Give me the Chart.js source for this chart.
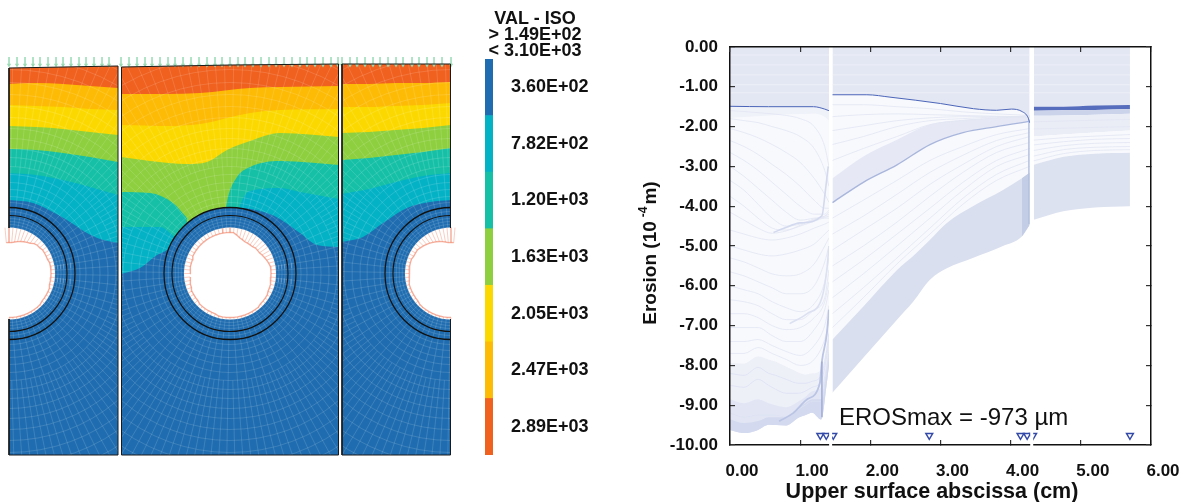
<!DOCTYPE html>
<html>
<head>
<meta charset="utf-8">
<title>Erosion</title>
<script src="https://cdn.jsdelivr.net/npm/chart.js@4"></script>
<style>
  body { margin: 0; background: #fff; font-family: "Liberation Sans", Arial, sans-serif; color: #111; }
  canvas { position: absolute; }
  .txt { position: absolute; white-space: nowrap; }
  #isoTitle { left: 475px; width: 120px; top: 10px; text-align: center; font: bold 18px/16px "Liberation Sans"; }
  #erosMax { left: 839px; top: 403px; font: 24px/27px "Liberation Sans"; }
  #xTitle { left: 732px; width: 400px; top: 479px; text-align: center; font: bold 21.5px/24px "Liberation Sans"; }
  #yTitle { left: 550px; width: 200px; top: 241px; text-align: center; font: bold 19px/24px "Liberation Sans"; transform: rotate(-90deg); }
  #yTitle sup { font-size: 12px; line-height: 0; vertical-align: 9px; margin: 0 2px 0 4px; }
</style>
</head>
<body>
<canvas id="fem" width="480" height="502" style="left:0;top:0"></canvas>
<canvas id="isoBar" width="110" height="502" style="left:485px;top:0"></canvas>
<canvas id="erosion" width="569" height="502" style="left:620px;top:0"></canvas>
<div class="txt" id="isoTitle">VAL - ISO<br>&gt; 1.49E+02<br>&lt; 3.10E+03</div>
<div class="txt" id="erosMax">EROSmax = -973 µm</div>
<div class="txt" id="xTitle">Upper surface abscissa (cm)</div>
<div class="txt" id="yTitle">Erosion (10<sup>-4</sup>m)</div>
<script>
// colour key
const isoLabels = ['3.60E+02', '7.82E+02', '1.20E+03', '1.63E+03', '2.05E+03', '2.47E+03', '2.89E+03'];
const isoColors = ['#1F6DB0', '#04B2C6', '#16C0A6', '#8DCF3F', '#FBD900', '#FDBB05', '#F0611F'];
const [BLUE, CYAN, TEAL, GREEN, YELLOW, AMBER, ORANGE] = isoColors;

// contour boundaries, left panel (mesh x, mesh y)
const p1X = [9, 36, 63, 90, 118];
const p1Top = [68, 67.5, 67, 66.5, 66];
const p1Amber = [84, 83, 84, 86, 88];
const p1Yellow = [105, 106, 107, 109, 110];
const p1Green = [126, 127, 129, 132, 135];
const p1Teal = [149, 150, 153, 157, 162];
const p1Cyan = [173, 175, 180, 187, 195];
const p1BlueX = [9, 33, 67, 87, 100, 118];
const p1Blue = [200, 203, 220, 233, 239, 243];

// middle panel
const p2TopX = [121, 230, 339];
const p2Top = [67, 65, 64];
const p2AmberX = [121, 167, 200, 250, 280, 339];
const p2Amber = [94, 94, 93, 88, 87, 86];
const p2YellowX = [121, 167, 200, 250, 280, 339];
const p2Yellow = [125, 126, 124, 113, 110, 109];
const p2GreenX = [121, 150, 187, 207, 227, 250, 280, 339];
const p2Green = [157, 161, 164, 162, 150, 141, 133, 137];
const p2TealLX = [121, 150, 173, 187];
const p2TealL = [192, 193, 203, 218];
const p2TealRX = [226, 228, 237, 250, 280, 339];
const p2TealR = [208, 197, 177, 167, 161, 165];
const p2CyanLX = [121, 160, 175, 180];
const p2CyanL = [227, 227, 237, 240];
const p2CyanRX = [240, 245, 250, 280, 300, 339];
const p2CyanR = [205, 195, 191, 188, 192, 199];
const p2BlueX = [121, 140, 157, 167, 172, 200, 240, 267, 280, 300, 317, 339];
const p2Blue = [274, 268, 255, 250, 245, 240, 208, 213, 219, 233, 245, 247];

// right panel
const p3X = [342, 369, 396, 423, 451];
const p3Top = [64, 64, 64, 64, 64];
const p3Amber = [84, 84, 83, 83, 82];
const p3Yellow = [107, 107, 106, 105, 103];
const p3Green = [133, 132, 130, 128, 125];
const p3Teal = [160, 158, 155, 152, 148];
const p3Cyan = [194, 189, 182, 176, 173];
const p3BlueX = [342, 363, 383, 407, 430, 451];
const p3Blue = [242, 237, 223, 208, 202, 200];

// tube centres and radii
const tubeX = [9, 230, 451];
const tubeY = 273.5;
const ringOuter = 66, ringMiddle = 58, holeRadius = 46;
const meshRadii = [46, 49, 52, 55, 58, 62, 66, 71, 77, 84, 91, 99, 107, 116, 125, 135, 145, 156, 167, 179, 191, 204, 217, 231, 245, 260];
const panelX = [[9, 118], [121.5, 339], [342, 451]];
const panelBottom = 455;

// pressure arrows on the hole, length by angle in degrees
const hole1Angles = [-95, -90, -85, -80, -75, -70, -65, -60, -55, -50, -45, -40, -35, -30, -25, -20, -15, -10, -5, 0, 5, 10, 15, 20, 25, 30, 35, 40, 45, 50, 55, 60, 65, 70, 75, 80, 85, 90];
const hole1Len = [15, 15, 15, 14, 13, 12, 11, 10, 9, 7, 6, 6, 5, 5, 5, 5, 4, 4, 4, 4, 4, 4, 4, 3, 3, 3, 3, 3, 2, 2, 2, 2, 2, 2, 2, 2, 2, 2];
const hole2Angles = [-180, -175, -170, -165, -160, -155, -150, -145, -140, -135, -130, -125, -120, -115, -110, -105, -100, -95, -90, -85, -80, -75, -70, -65, -60, -55, -50, -45, -40, -35, -30, -25, -20, -15, -10, -5, 0, 5, 10, 15, 20, 25, 30, 35, 40, 45, 50, 55, 60, 65, 70, 75, 80, 85, 90, 95, 100, 105, 110, 115, 120, 125, 130, 135, 140, 145, 150, 155, 160, 165, 170, 175];
const hole2Len = [6, 6, 6, 6, 6, 5, 5, 5, 5, 5, 5, 5, 5, 5, 5, 5, 5, 5, 5, 5, 7, 9, 10, 11, 11, 11, 11, 10, 10, 10, 9, 8, 7, 6, 5, 5, 5, 5, 5, 4, 4, 4, 3, 3, 3, 3, 2, 2, 2, 2, 2, 2, 2, 2, 2, 2, 2, 2, 3, 3, 3, 3, 3, 3, 4, 4, 4, 4, 5, 5, 6, 6];
const hole3Angles = [-85, -90, -95, -100, -105, -110, -115, -120, -125, -130, -135, -140, -145, -150, -155, -160, -165, -170, -175, -180, -185, -190, -195, -200, -205, -210, -215, -220, -225, -230, -235, -240, -245, -250, -255, -260, -265, -270];
const hole3Len = [15, 15, 15, 14, 13, 12, 11, 10, 9, 8, 7, 6, 5, 5, 5, 4, 4, 4, 4, 4, 4, 4, 3, 3, 3, 3, 3, 3, 2, 2, 2, 2, 2, 2, 2, 2, 2, 2];

// pressure load on the top edge
const loadX = [9, 17, 25, 33, 40, 48, 56, 63, 71, 79, 86, 94, 102, 109, 121, 129, 137, 145, 152, 160, 168, 175, 183, 191, 199, 207, 215, 222, 230, 238, 245, 253, 261, 269, 276, 284, 292, 300, 307, 315, 323, 331, 338, 342, 350, 357, 365, 373, 380, 388, 396, 403, 412, 419, 427, 434, 442, 451];
const loadTipY = 57, loadHeadY = 65;

// erosion chart
const xTickLabels = ['0.00', '1.00', '2.00', '3.00', '4.00', '5.00', '6.00'];
const yTickLabels = ['0.00', '-1.00', '-2.00', '-3.00', '-4.00', '-5.00', '-6.00', '-7.00', '-8.00', '-9.00', '-10.00'];
const markerX = [1.287, 1.372, 1.472, 2.84, 4.14, 4.235, 4.32, 5.70];
const markerY = [-9.76, -9.76, -9.76, -9.76, -9.76, -9.76, -9.76, -9.76];
const gapX = [1.434, 4.30];

// first blade stretch
const deepAX = [0, 0.55, 1.19, 1.35, 1.41];
const deepA = [-1.49, -1.5, -1.5, -1.56, -1.6];
const underDeepA = [-1.78, -1.72, -1.68, -1.75, -1.85];
const lineAX = [0, 0.2, 0.4, 0.6, 0.8, 1.0, 1.2, 1.35, 1.41];
const linesA = [
  [-1.6, -1.62, -1.65, -1.68, -1.72, -1.8, -2.0, -2.5, -3.0],
  [-1.8, -1.85, -1.9, -2.0, -2.1, -2.25, -2.55, -3.1, -3.5],
  [-2.05, -2.15, -2.28, -2.45, -2.65, -2.9, -3.3, -3.7, -3.9],
  [-2.35, -2.5, -2.7, -2.95, -3.2, -3.5, -3.85, -4.05, -4.05],
  [-2.65, -2.85, -3.1, -3.4, -3.7, -4.0, -4.2, -4.2, -4.1],
  [-3.0, -3.25, -3.55, -3.85, -4.15, -4.35, -4.3, -4.25, -4.15],
  [-3.35, -3.6, -3.95, -4.3, -4.5, -4.45, -4.32, -4.25, -4.2],
  [-3.75, -4.0, -4.3, -4.55, -4.6, -4.48, -4.34, -4.28, -4.25],
  [-4.15, -4.35, -4.55, -4.68, -4.62, -4.5, -4.38, -4.3, -4.3],
  [-4.6, -4.7, -4.8, -4.85, -4.8, -4.7, -4.55, -4.45, -4.4],
  [-5.0, -5.1, -5.2, -5.25, -5.2, -5.1, -4.95, -4.7, -4.6],
  [-5.3, -5.4, -5.55, -5.7, -5.75, -5.7, -5.45, -5.0, -4.8],
  [-5.65, -5.75, -5.9, -6.05, -6.2, -6.2, -6.0, -5.4, -5.0],
  [-6.0, -6.1, -6.2, -6.4, -6.55, -6.65, -6.45, -5.9, -5.3],
  [-6.35, -6.4, -6.5, -6.7, -6.85, -6.85, -6.6, -6.3, -5.6],
  [-6.7, -6.7, -6.8, -7.0, -7.1, -7.05, -6.8, -6.4, -5.9],
  [-7.05, -7.05, -7.05, -7.25, -7.4, -7.4, -7.1, -6.6, -6.1],
  [-7.4, -7.4, -7.35, -7.5, -7.65, -7.75, -7.5, -7.0, -6.5],
  [-7.7, -7.7, -7.55, -7.7, -7.85, -8.0, -7.85, -7.35, -6.9]
];
const lowAX = [0, 0.2, 0.4, 0.55, 0.65, 0.8, 0.98, 1.07, 1.17, 1.3, 1.38, 1.41];
const lowATop = [-7.94, -7.95, -7.77, -7.85, -7.9, -8.03, -8.18, -8.23, -8.2, -8.1, -7.43, -7.0];
const lowABottom = [-9.62, -9.7, -9.62, -9.49, -9.5, -9.51, -9.31, -9.25, -9.19, -9.36, -8.44, -8.0];
const lowAMid = [-8.85, -8.95, -8.85, -8.95, -9.0, -9.05, -8.9, -8.8, -8.65, -8.55, -7.9, -7.5];
const lowADeep = [-9.35, -9.45, -9.4, -9.3, -9.3, -9.3, -9.05, -8.95, -8.85, -8.85, -8.1, -7.7];
const lowALines = [
  [-8.2, -8.25, -8.05, -8.2, -8.25, -8.35, -8.45, -8.45, -8.4, -8.25, -7.6, -7.2],
  [-8.5, -8.55, -8.35, -8.5, -8.6, -8.7, -8.7, -8.65, -8.55, -8.4, -7.75, -7.35],
  [-9.2, -9.3, -9.25, -9.25, -9.25, -9.3, -9.1, -9.0, -8.9, -8.9, -8.15, -7.7]
];
const streakA1X = [0.62, 0.76, 1.0, 1.31, 1.36, 1.4];
const streakA1 = [-4.66, -4.56, -4.42, -4.24, -3.6, -3.0];
const streakA2X = [0.85, 1.1, 1.31, 1.38, 1.41];
const streakA2 = [-6.95, -6.7, -6.3, -5.6, -5.0];
const streakA3X = [0.7, 0.9, 1.1, 1.28, 1.31, 1.38, 1.41];
const streakA3 = [-9.4, -9.2, -8.85, -8.45, -7.9, -7.2, -6.6];
const edgeA3X = [1.31, 1.31];
const edgeA3 = [-9.3, -7.9];

// middle blade stretch
const deepBX = [1.46, 1.95, 2.28, 3.0, 3.47, 3.8, 4.01, 4.16, 4.25, 4.27];
const deepB = [-1.2, -1.2, -1.26, -1.42, -1.55, -1.59, -1.56, -1.62, -1.78, -1.9];
const wedgeX = [1.46, 1.9, 2.38, 2.85, 3.32, 3.8, 4.27];
const wedgeTop = [-3.3, -2.75, -2.33, -1.95, -1.83, -1.78, -1.7];
const streakB = [-3.91, -3.4, -2.96, -2.45, -2.15, -2.0, -1.87];
const linesB = [
  [-1.45, -1.45, -1.5, -1.55, -1.63, -1.68, -1.72],
  [-1.75, -1.7, -1.68, -1.7, -1.72, -1.74, -1.75],
  [-2.1, -1.98, -1.85, -1.78, -1.75, -1.75, -1.75],
  [-2.45, -2.25, -2.0, -1.85, -1.8, -1.76, -1.75],
  [-2.85, -2.55, -2.25, -1.95, -1.85, -1.78, -1.76],
  [-4.3, -3.85, -3.35, -2.85, -2.5, -2.2, -2.05],
  [-4.7, -4.25, -3.7, -3.15, -2.72, -2.35, -2.15],
  [-5.1, -4.6, -4.05, -3.45, -2.95, -2.5, -2.25],
  [-5.5, -5.0, -4.4, -3.75, -3.15, -2.65, -2.4],
  [-5.9, -5.35, -4.7, -4.05, -3.4, -2.85, -2.55],
  [-6.3, -5.7, -5.0, -4.3, -3.6, -3.0, -2.7],
  [-6.7, -6.05, -5.3, -4.55, -3.8, -3.2, -2.85],
  [-7.05, -6.3, -5.45, -4.7, -3.95, -3.35, -3.0]
];
const lowBX = [1.46, 1.9, 2.38, 2.61, 2.85, 3.09, 3.46, 3.89, 4.16, 4.27];
const lowBTop = [-7.35, -6.52, -5.6, -5.25, -4.84, -4.42, -4.0, -3.59, -3.3, -3.16];
const lowBBottom = [-8.69, -7.81, -6.85, -6.4, -5.85, -5.56, -5.3, -5.0, -4.76, -4.47];
const endBX = [4.16, 4.27];
const endBTop = [-3.3, -3.16];
const endBBottom = [-4.76, -4.47];
const edgeBX = [4.26, 4.26];
const edgeB = [-1.85, -4.45];

// last stretch
const stretchCX = [4.33, 4.75, 5.2, 5.7];
const deepCTop = [-1.5, -1.5, -1.47, -1.46];
const deepCBottom = [-1.6, -1.59, -1.58, -1.56];
const paleCTop = [-1.73, -1.72, -1.7, -1.68];
const paleCBottom = [-2.25, -2.2, -2.15, -2.1];
const lowCTop = [-2.96, -2.76, -2.68, -2.66];
const lowCBottom = [-4.34, -4.13, -4.03, -4.0];
const linesC = [
  [-1.88, -1.86, -1.84, -1.82],
  [-2.06, -2.04, -2.02, -2.0],
  [-2.34, -2.28, -2.24, -2.2],
  [-2.46, -2.38, -2.32, -2.3],
  [-2.6, -2.48, -2.42, -2.4],
  [-2.74, -2.58, -2.52, -2.5],
  [-2.86, -2.68, -2.6, -2.58]
];
const stripesTop = [-0.2, -0.45, -0.7, -0.95, -1.15];
const stripeAX = [0, 1.41];
const stripeBX = [1.46, 4.27];
const stripeCX = [4.33, 5.7];

// ---- left panels ----
function pts(xs, ys) {
  return xs.map((x, i) => ({ x: x, y: ys[i] }));
}

const femSets = [];
const straight = { tension: 0, cubicInterpolationMode: 'default' };

function contour(panel, xs, ys, color) {
  femSets.push({
    data: pts(xs, ys), borderWidth: 0, pointRadius: 0, backgroundColor: color,
    fill: { value: panelBottom }, panelClip: panelX[panel]
  });
}

const BREAK = { x: NaN, y: NaN };

function meshPoints(cx) {
  const out = [];
  const deg = Math.PI / 180;
  const rEnd = meshRadii[meshRadii.length - 1];
  const spoke = (a, r0) => {
    out.push({ x: cx + r0 * Math.cos(a), y: tubeY + r0 * Math.sin(a) });
    out.push({ x: cx + rEnd * Math.cos(a), y: tubeY + rEnd * Math.sin(a) });
    out.push(BREAK);
  };
  meshRadii.forEach(r => {
    for (let k = 0; k <= 72; k++) {
      out.push({ x: cx + r * Math.cos(k * 5 * deg), y: tubeY + r * Math.sin(k * 5 * deg) });
    }
    out.push(BREAK);
  });
  for (let k = 0; k < 72; k++) {
    spoke((k * 5 + 1) * deg, meshRadii[0]);
    spoke((k * 5 + 3.5) * deg, meshRadii[12]);
  }
  return out;
}

function ringPoint(panel, radius, fillColor, lineWidth, lineColor) {
  femSets.push({
    data: [{ x: tubeX[panel], y: tubeY }], showLine: false, pointStyle: 'circle', pointRadius: radius,
    pointBackgroundColor: fillColor, pointBorderColor: lineColor, pointBorderWidth: lineWidth,
    panelClip: panelX[panel]
  });
}

function holeArrows(panel, angles, lens) {
  const hatch = [], tips = [];
  const cx = tubeX[panel];
  angles.forEach((a, i) => {
    const c = Math.cos(a * Math.PI / 180), s = Math.sin(a * Math.PI / 180);
    const tip = { x: cx + (holeRadius - lens[i]) * c, y: tubeY + (holeRadius - lens[i]) * s };
    hatch.push({ x: cx + holeRadius * c, y: tubeY + holeRadius * s }, tip, BREAK);
    tips.push(tip);
  });
  femSets.push({ data: hatch, borderColor: 'rgba(240,130,100,0.4)', borderWidth: 1, pointRadius: 0, ...straight });
  femSets.push({ data: tips, borderColor: 'rgba(238,120,90,0.6)', borderWidth: 1.4, pointRadius: 0, ...straight });
}

function frame(points) {
  femSets.push({ data: points, borderColor: '#1a1a1a', borderWidth: 1, pointRadius: 0, ...straight });
}

// panel 1
contour(0, p1X, p1Top, ORANGE);
contour(0, p1X, p1Amber, AMBER);
contour(0, p1X, p1Yellow, YELLOW);
contour(0, p1X, p1Green, GREEN);
contour(0, p1X, p1Teal, TEAL);
contour(0, p1X, p1Cyan, CYAN);
contour(0, p1BlueX, p1Blue, BLUE);
// panel 2
contour(1, p2TopX, p2Top, ORANGE);
contour(1, p2AmberX, p2Amber, AMBER);
contour(1, p2YellowX, p2Yellow, YELLOW);
contour(1, p2GreenX, p2Green, GREEN);
contour(1, p2TealLX, p2TealL, TEAL);
contour(1, p2TealRX, p2TealR, TEAL);
contour(1, p2CyanLX, p2CyanL, CYAN);
contour(1, p2CyanRX, p2CyanR, CYAN);
contour(1, p2BlueX, p2Blue, BLUE);
// panel 3
contour(2, p3X, p3Top, ORANGE);
contour(2, p3X, p3Amber, AMBER);
contour(2, p3X, p3Yellow, YELLOW);
contour(2, p3X, p3Green, GREEN);
contour(2, p3X, p3Teal, TEAL);
contour(2, p3X, p3Cyan, CYAN);
contour(2, p3BlueX, p3Blue, BLUE);

[0, 1, 2].forEach(p => {
  ringPoint(p, ringOuter, BLUE, 0, BLUE);
  femSets.push({
    data: meshPoints(tubeX[p]), borderColor: 'rgba(255,255,255,0.2)', borderWidth: 0.7, pointRadius: 0,
    panelClip: panelX[p], ...straight
  });
  ringPoint(p, ringOuter, 'rgba(0,0,0,0)', 1.3, '#111');
  ringPoint(p, ringMiddle, 'rgba(0,0,0,0)', 1.2, '#111');
  ringPoint(p, holeRadius, '#fff', 0, '#fff');
});

holeArrows(0, hole1Angles, hole1Len);
holeArrows(1, hole2Angles, hole2Len);
holeArrows(2, hole3Angles, hole3Len);

// load arrows along the top
const loadShaft = [];
loadX.forEach(x => loadShaft.push({ x: x, y: loadTipY }, { x: x, y: loadHeadY }, BREAK));
femSets.push({ data: loadShaft, borderColor: '#A6E0BE', borderWidth: 1, pointRadius: 0, ...straight });
femSets.push({
  data: loadX.map(x => ({ x: x, y: loadHeadY })), showLine: false, pointStyle: 'triangle', pointRotation: 180,
  pointRadius: 2.5, pointBackgroundColor: '#9ADBB4', pointBorderWidth: 0
});

frame([{ x: 9, y: 68 }, { x: 9, y: 228 }, BREAK, { x: 9, y: 319 }, { x: 9, y: panelBottom }, { x: 118, y: panelBottom }, { x: 118, y: 66 }, { x: 9, y: 68 }]);
frame([{ x: 121.5, y: 67 }, { x: 121.5, y: panelBottom }, { x: 338.5, y: panelBottom }, { x: 338.5, y: 64 }, { x: 230, y: 65 }, { x: 121.5, y: 67 }]);
frame([{ x: 342, y: 64 }, { x: 342, y: panelBottom }, { x: 450.5, y: panelBottom }, { x: 450.5, y: 319 }, BREAK, { x: 450.5, y: 228 }, { x: 450.5, y: 64 }, { x: 342, y: 64 }]);

// later datasets paint on top
femSets.forEach((d, i) => { d.order = femSets.length - i; });

const panelClip = {
  id: 'panelClip',
  beforeDatasetDraw(chart, args) {
    const c = chart.data.datasets[args.index].panelClip;
    if (!c) return;
    const sx = chart.scales.x;
    chart.ctx.save();
    chart.ctx.beginPath();
    chart.ctx.rect(sx.getPixelForValue(c[0]), 0, sx.getPixelForValue(c[1]) - sx.getPixelForValue(c[0]), chart.height);
    chart.ctx.clip();
  },
  afterDatasetDraw(chart, args) {
    if (chart.data.datasets[args.index].panelClip) chart.ctx.restore();
  }
};

new Chart(document.getElementById('fem'), {
  type: 'line',
  data: { datasets: femSets },
  plugins: [panelClip],
  options: {
    responsive: false,
    animation: false,
    layout: { autoPadding: false },
    plugins: { legend: { display: false }, tooltip: { enabled: false } },
    elements: { line: { tension: 0.35, cubicInterpolationMode: 'monotone' } },
    scales: {
      x: { type: 'linear', min: 0, max: 480, display: false },
      y: { type: 'linear', min: 0, max: 502, reverse: true, display: false }
    }
  }
});

// ---- colour bar ----
new Chart(document.getElementById('isoBar'), {
  type: 'bar',
  data: {
    labels: isoLabels,
    datasets: [{ data: isoLabels.map(() => 1), backgroundColor: isoColors, barPercentage: 1, categoryPercentage: 1 }]
  },
  options: {
    indexAxis: 'y',
    responsive: false,
    animation: false,
    layout: { padding: { top: 59, bottom: 47 } },
    plugins: { legend: { display: false }, tooltip: { enabled: false } },
    scales: {
      x: { min: 0, max: 1, display: false },
      y: {
        position: 'right',
        grid: { display: false, drawTicks: false },
        border: { display: false },
        ticks: { color: '#111', padding: 18, font: { family: 'Liberation Sans', weight: 'bold', size: 18 } },
        afterFit(scale) { scale.width = 102; }
      }
    }
  }
});

// ---- erosion chart ----
const eroSets = [];

function band(xs, top, bottom, color, xsBottom) {
  eroSets.push({ data: pts(xs, top), borderWidth: 0, pointRadius: 0, backgroundColor: color, fill: '+1' });
  eroSets.push({ data: pts(xsBottom || xs, bottom), borderWidth: 0, pointRadius: 0, fill: false });
}

function curve(xs, ys, color, width) {
  eroSets.push({ data: pts(xs, ys), borderColor: color, borderWidth: width, pointRadius: 0, fill: false });
}

const zeros = xs => xs.map(() => 0);
const thinLine = '#E2E6F3';
const topBand = '#E3E6F3';

// first stretch
band(deepAX, zeros(deepAX), deepA, topBand);
band(deepAX, deepA, lowATop, '#F8F9FD', lowAX);
band(deepAX, deepA, underDeepA, '#F0F2F9');
linesA.forEach(l => curve(lineAX, l, thinLine, 0.8));
band(lowAX, lowATop, lowABottom, '#EEF0F8');
band(lowAX, lowAMid, lowABottom, '#E2E6F4');
band(lowAX, lowADeep, lowABottom, '#D3D9EE');
lowALines.forEach(l => curve(lowAX, l, '#DCE1F2', 0.8));
curve(streakA1X, streakA1, '#D3D9EE', 1.6);
curve(streakA2X, streakA2, '#DCE1F2', 1.6);
curve(streakA3X, streakA3, '#BAC4E4', 1.8);
curve(edgeA3X, edgeA3, '#9DAAD6', 1.4);
curve(deepAX, deepA, '#4A64B8', 1);

// middle stretch
band(deepBX, zeros(deepBX), deepB, topBand);
band(deepBX, deepB, lowBTop, '#F8F9FD', lowBX);
band(wedgeX, wedgeTop, streakB, '#E6E9F5');
linesB.forEach(l => curve(wedgeX, l, thinLine, 0.8));
curve(wedgeX, streakB, '#A9B6DC', 1.4);
band(lowBX, lowBTop, lowBBottom, '#D9DFEF');
band(endBX, endBTop, endBBottom, '#C4CDE6');
curve(edgeBX, edgeB, '#B5C0E0', 1.5);
curve(deepBX, deepB, '#4A64B8', 1);

// last stretch
band(stretchCX, zeros(stretchCX), deepCTop, topBand);
band(stretchCX, deepCTop, deepCBottom, '#566CBC');
band(stretchCX, deepCBottom, paleCTop, '#CBD3EA');
band(stretchCX, paleCTop, paleCBottom, '#EAEDF6');
band(stretchCX, paleCBottom, lowCTop, '#F8F9FD');
linesC.forEach(l => curve(stretchCX, l, thinLine, 0.8));
band(stretchCX, lowCTop, lowCBottom, '#DDE2F0');

// pale stripes through the upper bands
stripesTop.forEach(y => {
  curve(stripeAX, [y, y], '#F0F2F9', 0.8);
  curve(stripeBX, [y, y], '#F0F2F9', 0.8);
  curve(stripeCX, [y, y], '#F0F2F9', 0.8);
});

// markers on the bottom edge
eroSets.push({
  data: pts(markerX, markerY), showLine: false, pointStyle: 'triangle', pointRotation: 180, pointRadius: 4,
  pointBackgroundColor: '#fff', pointBorderColor: '#3349A8', pointBorderWidth: 1.4
});

// white slits between the stretches, they cut the bottom edge too
gapX.forEach(x => {
  eroSets.push({
    data: pts([x, x], [-0.05, -10.05]), borderColor: '#fff', borderWidth: 3, pointRadius: 0, fill: false, clip: false
  });
});

eroSets.forEach((d, i) => { d.order = eroSets.length - i; });

const axisFont = { family: 'Liberation Sans', weight: 'bold', size: 17 };
const frameBorder = { color: '#111', width: 1.5, z: 1 };
const bottomBorder = { color: '#111', width: 1.5 };
const tickGrid = { drawOnChartArea: false, tickLength: -5, color: '#333', lineWidth: 1.2, z: 1 };
const bottomGrid = { drawOnChartArea: false, tickLength: -5, color: '#333', lineWidth: 1.2 };

new Chart(document.getElementById('erosion'), {
  type: 'line',
  data: { datasets: eroSets },
  options: {
    responsive: false,
    animation: false,
    layout: { autoPadding: false, padding: { top: 47, right: 38 } },
    plugins: { legend: { display: false }, tooltip: { enabled: false } },
    elements: { line: { tension: 0.3, cubicInterpolationMode: 'monotone' } },
    scales: {
      x: {
        type: 'linear', min: 0, max: 6, position: 'bottom',
        border: bottomBorder, grid: bottomGrid,
        ticks: {
          stepSize: 1, color: '#111', font: axisFont, padding: 21, labelOffset: 12, maxRotation: 0,
          callback: v => xTickLabels[v]
        },
        afterFit(scale) { scale.height = 57; }
      },
      y: {
        type: 'linear', min: -10, max: 0, position: 'left',
        border: frameBorder, grid: tickGrid,
        ticks: {
          stepSize: 1, color: '#111', font: axisFont, padding: 17,
          callback: v => yTickLabels[-v]
        },
        afterFit(scale) { scale.width = 110; }
      },
      xTop: {
        type: 'linear', min: 0, max: 6, position: 'top',
        border: frameBorder, grid: tickGrid, ticks: { stepSize: 1, display: false },
        afterFit(scale) { scale.height = 0; }
      },
      yRight: {
        type: 'linear', min: -10, max: 0, position: 'right',
        border: frameBorder, grid: tickGrid, ticks: { stepSize: 1, display: false },
        afterFit(scale) { scale.width = 0; }
      }
    }
  }
});
</script>
</body>
</html>
